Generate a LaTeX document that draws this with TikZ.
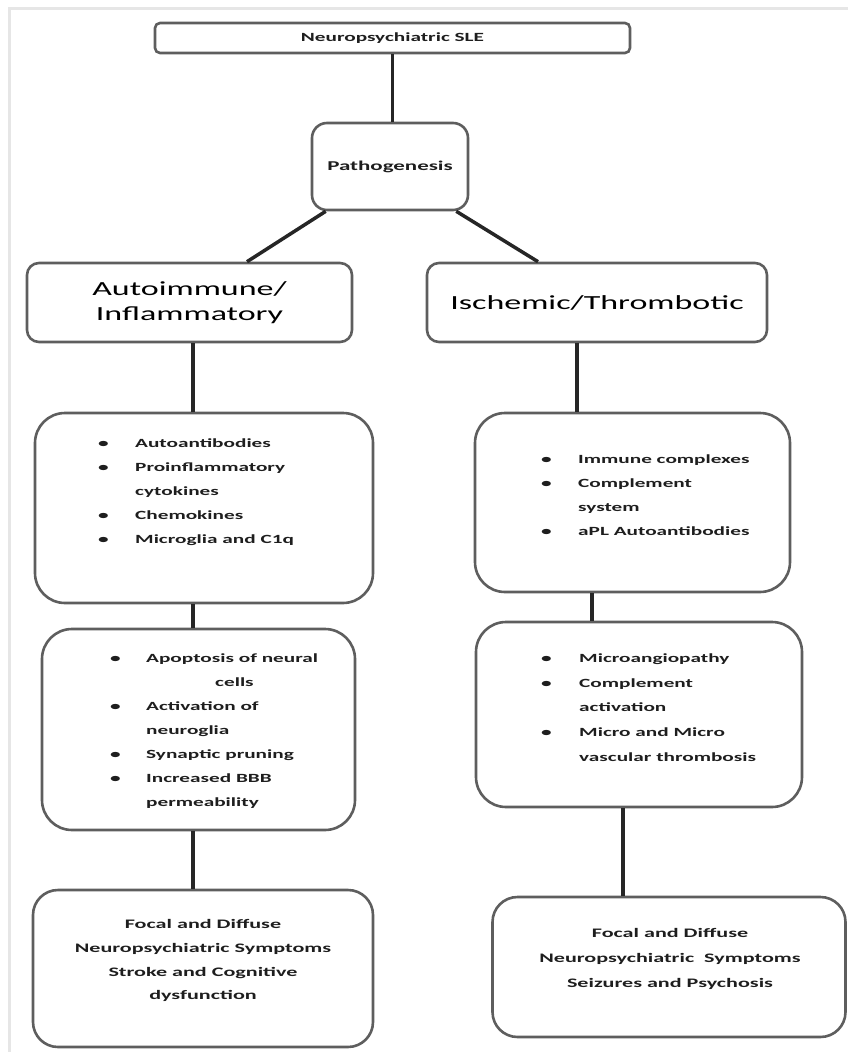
\documentclass[tikz,border=0pt]{standalone}
\usepackage{fontspec}
\setmainfont{Carlito}
\newfontfamily\wide[FakeStretch=1.7]{Carlito}
\usetikzlibrary{calc}
\definecolor{edge}{HTML}{5E5E5E}
\definecolor{wire}{HTML}{262626}
\definecolor{ink}{HTML}{1E1E1E}
\definecolor{frame}{HTML}{E6E6E6}
\newcommand{\bul}{\textbullet}
\begin{document}
\begin{tikzpicture}[x=1pt, y=-1pt,
  box/.style={draw=edge, line width=2.6pt, fill=white, inner sep=0pt, text=ink},
  link/.style={draw=wire, line width=3.5pt},
  small/.style={font=\wide\bfseries\fontsize{12.5}{15}\selectfont},
  head/.style={align=center, text=black, font=\wide\fontsize{20}{25}\selectfont},
  lst/.style={anchor=north west, inner sep=0pt, text=ink},
  endtext/.style={anchor=north, inner sep=0pt, text=ink}]
\useasboundingbox (0,0) rectangle (848,1052);
\draw[frame, line width=3pt] (9.5,1052) -- (9.5,8.5) -- (848,8.5);

% boxes
\node[box, small, rounded corners=5pt, minimum width=475pt, minimum height=30pt] (title) at (392.5,38) {Neuropsychiatric SLE};
\node[box, rounded corners=15pt, minimum width=156pt, minimum height=87pt, font=\wide\bfseries\fontsize{13.5}{16}\selectfont] (path) at (390,166.5) {Pathogenesis};
\node[box, head, rounded corners=12pt, minimum width=325pt, minimum height=79pt] (auto) at (189.5,302.5) {Autoimmune/\\Inflammatory};
\node[box, head, rounded corners=12pt, minimum width=340pt, minimum height=79pt] (isch) at (597,302.5) {Ischemic/Thrombotic};
\node[box, rounded corners=30pt, minimum width=338pt, minimum height=190pt] (L1) at (204,508) {};
\node[box, rounded corners=30pt, minimum width=313pt, minimum height=201pt] (L2) at (198.5,729.5) {};
\node[box, rounded corners=25pt, minimum width=340pt, minimum height=157pt] (L3) at (203,968.5) {};
\node[box, rounded corners=30pt, minimum width=315pt, minimum height=179pt] (R1) at (632.5,502.5) {};
\node[box, rounded corners=30pt, minimum width=326pt, minimum height=185pt] (R2) at (639,714.5) {};
\node[box, rounded corners=25pt, minimum width=353pt, minimum height=140pt] (R3) at (669,967) {};

% box contents
\node[lst, font=\wide\bfseries\fontsize{12.5}{24}\selectfont] (L1t) at (98,430) {%
  \begin{tabular}{@{}p{37pt}@{}l@{}}
  \bul & Autoantibodies\\
  \bul & Proinflammatory\\
       & cytokines\\
  \bul & Chemokines\\
  \bul & Microglia and C1q
  \end{tabular}};
\node[lst, font=\wide\bfseries\fontsize{12.5}{24}\selectfont] (L2t) at (110,645) {%
  \begin{tabular}{@{}p{36pt}@{}l@{}}
  \bul & Apoptosis of neural\\
       & \hspace{69pt}cells\\
  \bul & Activation of\\
       & neuroglia\\
  \bul & Synaptic pruning\\
  \bul & Increased BBB\\
       & permeability
  \end{tabular}};
\node[lst, font=\wide\bfseries\fontsize{12.5}{24}\selectfont] (R1t) at (541,446) {%
  \begin{tabular}{@{}p{37pt}@{}l@{}}
  \bul & Immune complexes\\
  \bul & Complement\\
       & system\\
  \bul & aPL Autoantibodies
  \end{tabular}};
\node[lst, font=\wide\bfseries\fontsize{12.5}{24.7}\selectfont] (R2t) at (541,645) {%
  \begin{tabular}{@{}p{38pt}@{}l@{}}
  \bul & Microangiopathy\\
  \bul & Complement\\
       & activation\\
  \bul & Micro and Micro\\
       & vascular thrombosis
  \end{tabular}};
\node[endtext, font=\wide\bfseries\fontsize{13}{23.7}\selectfont] (L3t) at (203,912) {%
  \begin{tabular}{@{}c@{}}
  Focal and Diffuse\\
  Neuropsychiatric Symptoms\\
  Stroke and Cognitive\\
  dysfunction
  \end{tabular}};
\node[endtext, font=\wide\bfseries\fontsize{13}{25}\selectfont] (R3t) at (670,920) {%
  \begin{tabular}{@{}c@{}}
  Focal and Diffuse\\
  Neuropsychiatric\ \ Symptoms\\
  Seizures and Psychosis
  \end{tabular}};

% connectors
\draw[link] (title.south) -- (title.south |- path.north);
\draw[link] ([xshift=15pt]path.south west) -- ([xshift=57.5pt]auto.north);
\draw[link] ([xshift=-13pt]path.south east) -- ([xshift=-59pt]isch.north);
\draw[link] ([xshift=3.5pt]auto.south) -- ([xshift=3.5pt]auto.south |- L1.north);
\draw[link] ([xshift=-11pt]L1.south) -- ([xshift=-11pt]L1.south |- L2.north);
\draw[link] ([xshift=-5.5pt]L2.south) -- ([xshift=-5.5pt]L2.south |- L3.north);
\draw[link] ([xshift=-20pt]isch.south) -- ([xshift=-20pt]isch.south |- R1.north);
\draw[link] ([xshift=-40.5pt]R1.south) -- ([xshift=-40.5pt]R1.south |- R2.north);
\draw[link] ([xshift=-16pt]R2.south) -- ([xshift=-16pt]R2.south |- R3.north);
\end{tikzpicture}
\end{document}
